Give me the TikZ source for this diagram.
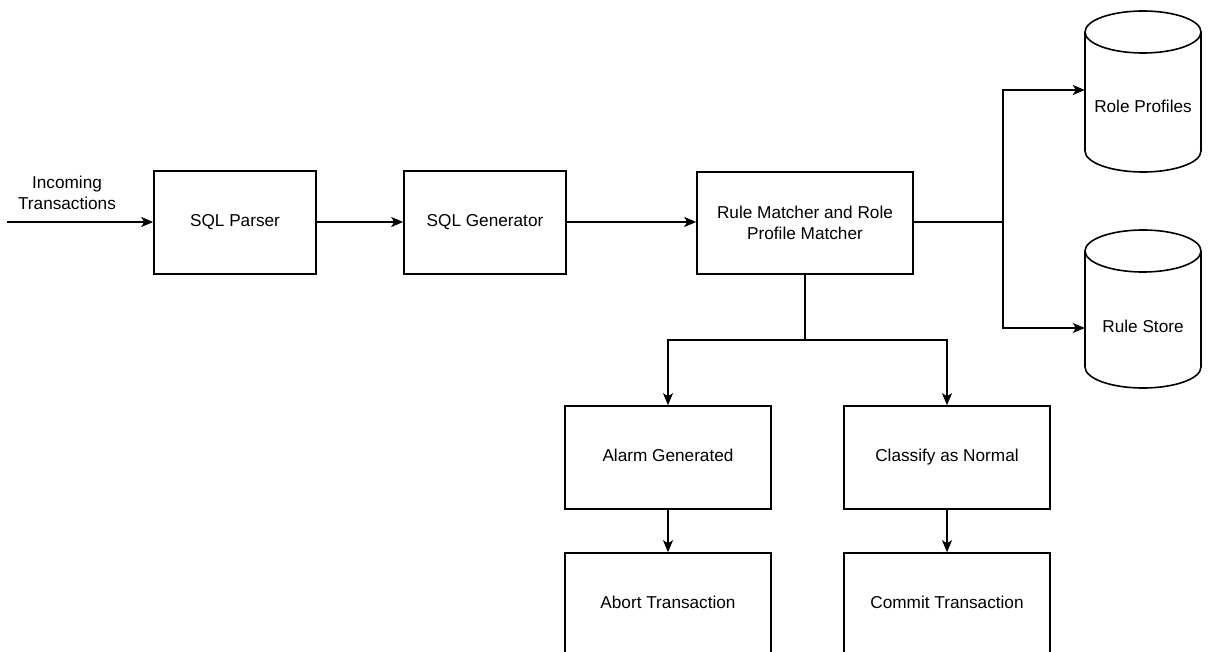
\documentclass[tikz,border=0pt]{standalone}
\usepackage{fontspec}
\setmainfont{Liberation Sans}
\usetikzlibrary{arrows.meta,calc}

\tikzset{
  line/.style={draw=black, line width=1.6pt},
  arr/.style={line, -{Stealth[length=12pt, width=10pt, inset=3pt]}},
  stepbox/.style={line, fill=white, rectangle, align=center, inner sep=0pt,
    font=\fontsize{17.2}{21}\selectfont},
  dbbox/.style={rectangle, inner sep=0pt, minimum width=116pt, minimum height=158pt},
  lbl/.style={align=center, inner sep=0pt, font=\fontsize{17.2}{21}\selectfont},
}

\begin{document}
\begin{tikzpicture}[x=1pt, y=-1pt]
  \useasboundingbox (0,0) rectangle (1213,652);
  \clip (0,0) rectangle (1213,652);
  \fill[white] (0,0) rectangle (1213,652);

  % main pipeline
  \node[stepbox, minimum width=162pt, minimum height=103pt] (sp) at (235,222.5) {\strut SQL Parser};
  \node[stepbox, minimum width=162pt, minimum height=103pt] (sg) at (485,222.5) {\strut SQL Generator};
  \node[stepbox, minimum width=216pt, minimum height=102pt] (rm) at (805,223) {Rule Matcher and Role\\Profile Matcher};

  % outcome boxes
  \node[stepbox, minimum width=206pt, minimum height=103pt] (ag) at (668,457.5) {\strut Alarm Generated};
  \node[stepbox, minimum width=206pt, minimum height=103pt] (cn) at (947,457.5) {\strut Classify as Normal};
  \node[stepbox, minimum width=206pt, minimum height=103pt] (at) at (668,604.5) {\strut Abort Transaction};
  \node[stepbox, minimum width=206pt, minimum height=103pt] (ct) at (947,604.5) {\strut Commit Transaction};

  % data stores (cylinders)
  \node[dbbox] (rp) at (1143,91.5) {};
  \node[dbbox] (rs) at (1143,309) {};
  \foreach \top/\bot in {32/151, 251/367} {
    \fill[white] (1085,\top) -- (1085,\bot) arc[start angle=180, end angle=360, x radius=58pt, y radius=21pt] -- (1201,\top) -- cycle;
    \fill[white] (1143,\top) ellipse[x radius=58pt, y radius=21pt];
    \draw[line] (1085,\top) -- (1085,\bot) arc[start angle=180, end angle=360, x radius=58pt, y radius=21pt] -- (1201,\top);
    \draw[line] (1143,\top) ellipse[x radius=58pt, y radius=21pt];
  }
  \node[lbl] (rpt) at (1143,108) {\strut Role Profiles};
  \node[lbl] (rst) at (1143,328) {\strut Rule Store};

  % input
  \coordinate (in) at (7,222);
  \node[lbl] (inlbl) at (67,193) {Incoming\\Transactions};

  % connectors
  \draw[arr] (in) -- (sp.west |- in);
  \draw[arr] (sp.east |- in) -- (sg.west |- in);
  \draw[arr] (sg.east |- in) -- (rm.west |- in);

  \coordinate (split) at (1003,222);
  \draw[line] (rm.east |- split) -- (split);
  \draw[arr] (split) |- (rp.west |- 0,90);
  \draw[arr] (split) |- (rs.west |- rst);

  \coordinate (fork) at (805,340);
  \draw[line] (rm.south) -- (fork);
  \draw[arr] (fork) -| (ag.north);
  \draw[arr] (fork) -| (cn.north);

  \draw[arr] (ag.south) -- (at.north);
  \draw[arr] (cn.south) -- (ct.north);
\end{tikzpicture}
\end{document}
